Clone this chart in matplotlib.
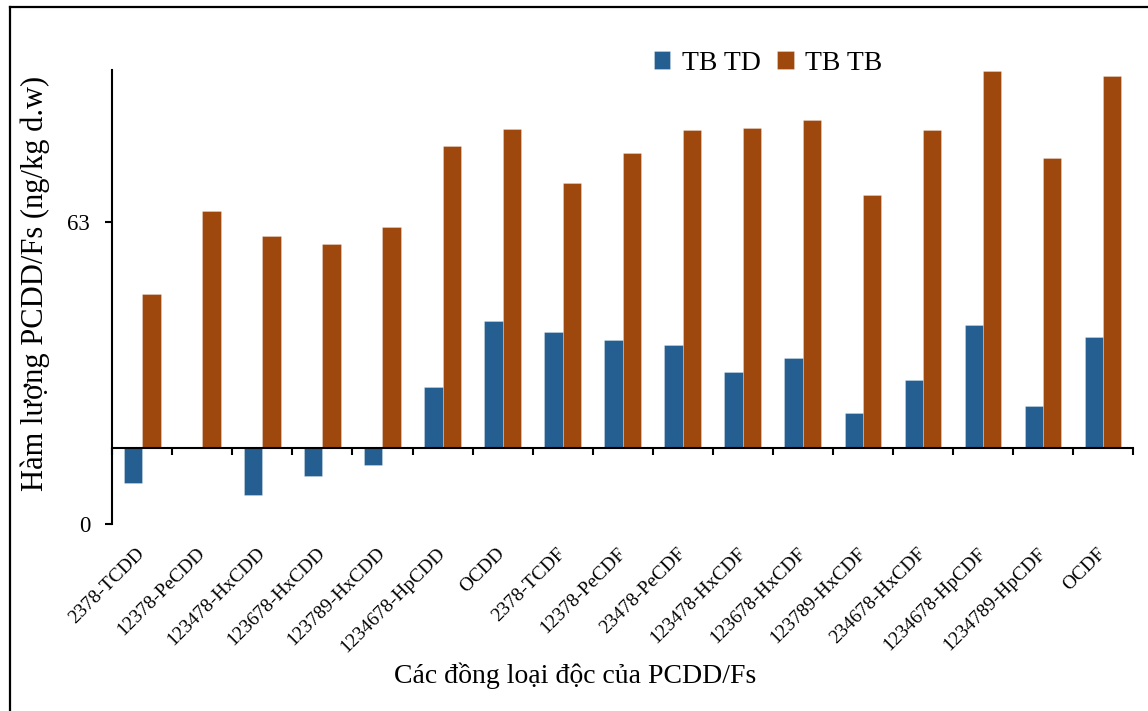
import numpy as np
import matplotlib
matplotlib.use('Agg')
import matplotlib.pyplot as plt
from matplotlib.lines import Line2D

plt.rcParams['font.family'] = ['Liberation Serif', 'DejaVu Serif']

# categories (PCDD/F congeners)
congeners = ['2378-TCDD', '12378-PeCDD', '123478-HxCDD', '123678-HxCDD',
             '123789-HxCDD', '1234678-HpCDD', 'OCDD', '2378-TCDF',
             '12378-PeCDF', '23478-PeCDF', '123478-HxCDF', '123678-HxCDF',
             '123789-HxCDF', '234678-HxCDF', '1234678-HpCDF', '1234789-HpCDF',
             'OCDF']

# values read on the y scale (0 ... 63 ...)
tb_td = [8.6, 15.8, 5.9, 10.0, 12.3, 28.6, 42.4, 40.0, 38.3, 37.3, 31.8,
         34.6, 23.1, 30.0, 41.5, 24.7, 39.0]
tb_tb = [48.0, 65.3, 60.1, 58.5, 62.0, 78.9, 82.5, 71.2, 77.5, 82.3, 82.7,
         84.3, 68.8, 82.3, 94.6, 76.5, 93.5]
baseline = 15.8          # where the horizontal axis crosses
ytick_values = [0, 63]

c_td = '#255E91'
c_tb = '#9E480E'

fig = plt.figure(figsize=(11.48, 7.11), dpi=100)
W, H = 1148.0, 711.0
ax = fig.add_axes([112.3/W, 1-523.7/H, (1133-112.3)/W, (523.7-70)/H])

x = np.arange(len(congeners))
bw = 0.305
ax.bar(x - bw/2, np.array(tb_td) - baseline, bw, bottom=baseline, color=c_td,
       edgecolor=(1, 1, 1, 0.45), linewidth=0.4, label='TB TD', zorder=2)
ax.bar(x + bw/2, np.array(tb_tb) - baseline, bw, bottom=baseline, color=c_tb,
       edgecolor=(1, 1, 1, 0.45), linewidth=0.4, label='TB TB', zorder=2)

ax.set_xlim(-0.5, len(congeners) - 0.5)
ax.set_ylim(0, 94.84)

for s in ['top', 'right']:
    ax.spines[s].set_visible(False)
ax.spines['left'].set_linewidth(1.5)
ax.spines['bottom'].set_linewidth(1.5)
ax.spines['bottom'].set_position(('data', baseline))
ax.spines['bottom'].set_zorder(3)

ax.set_yticks(ytick_values)
ax.set_yticklabels([str(v) for v in ytick_values])
ax.tick_params(axis='y', direction='out', length=5, width=1.5, pad=11, labelsize=16.5)

ax.set_xticks(np.arange(-0.5, len(congeners), 1))
ax.set_xticklabels([])
ax.tick_params(axis='x', which='major', direction='out', length=5, width=1.5)
ax.set_xticks(x, minor=True)
ax.set_xticklabels(congeners, minor=True, rotation=45, ha='right', va='center',
                   rotation_mode='anchor')
ax.tick_params(axis='x', which='minor', length=0, pad=74, labelsize=14)

fig.text(35/W, 1-283/H, 'Hàm lượng PCDD/Fs (ng/kg d.w)', rotation=90,
         ha='center', va='center', fontsize=22)
fig.text(575/W, 1-676/H, 'Các đồng loại độc của PCDD/Fs', ha='center',
         va='center', fontsize=20)

fig.legend(loc='center', bbox_to_anchor=(768/W, 1-63/H), ncol=2, frameon=False,
           fontsize=20, handlelength=0.6, handleheight=0.6, handletextpad=0.4,
           columnspacing=0.6)

# outer frame (left and top edges visible)
fig.add_artist(Line2D([10/W, 10/W], [0, 1-7/H], color='black', linewidth=1.6))
fig.add_artist(Line2D([10/W, 1], [1-7/H, 1-7/H], color='black', linewidth=1.6))

fig.savefig('out.png', dpi=100)
